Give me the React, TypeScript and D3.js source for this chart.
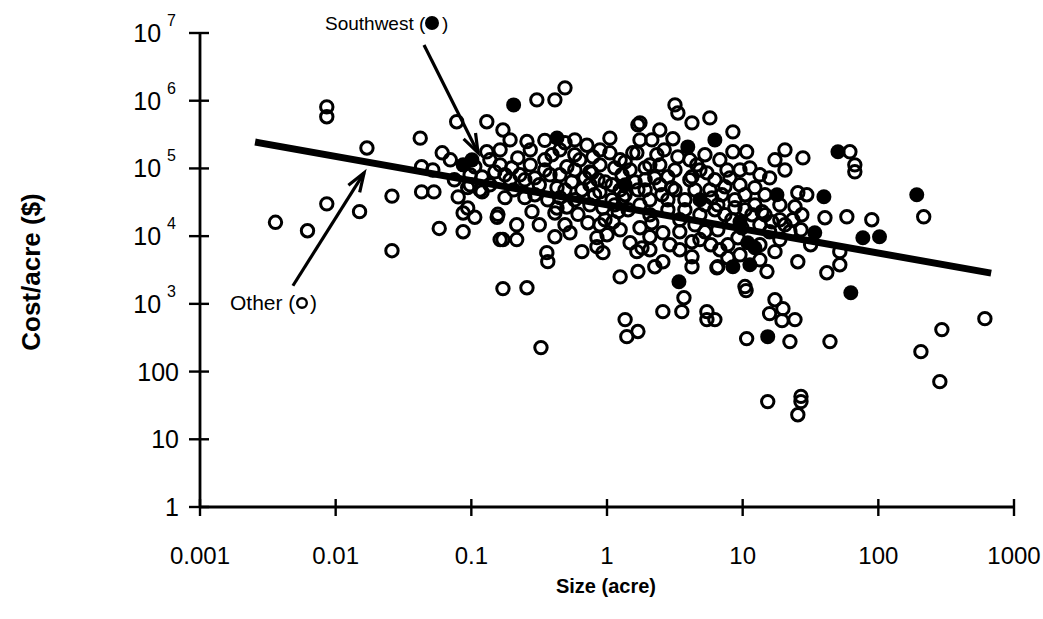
import React, { useEffect, useRef } from "react";
import * as d3 from "d3";

// axis ticks
const xTickValues = [0.001, 0.01, 0.1, 1, 10, 100, 1000];
const xTickLabels = ["0.001", "0.01", "0.1", "1", "10", "100", "1000"];
const yTickValues = [1, 10, 100, 1e3, 1e4, 1e5, 1e6, 1e7];
const yTickBase = ["1", "10", "100", "10", "10", "10", "10", "10"];
const yTickExp = ["", "", "", "3", "4", "5", "6", "7"];

// [size (acre), cost/acre ($)]
const otherPoints: [number, number][] = [
  [0.0036, 16000], [0.0062, 12000], [0.0086, 810000], [0.0086, 580000], [0.0086, 30000],
  [0.015, 23000], [0.017, 200000], [0.026, 39000], [0.026, 6100], [0.042, 280000],
  [0.043, 106000], [0.052, 95000], [0.043, 45000], [0.053, 45000], [0.058, 13000],
  [0.061, 170000], [0.07, 134000], [0.078, 490000], [0.13, 490000], [0.087, 11600],
  [0.08, 38000], [0.094, 26000], [0.106, 19000], [0.087, 22000], [0.13, 176000],
  [0.155, 19000], [0.163, 8900], [0.116, 48000], [0.171, 370000], [0.304, 1030000],
  [0.413, 1030000], [0.49, 1550000], [1.69, 440000], [0.257, 250000], [0.348, 260000],
  [0.49, 240000], [0.711, 220000], [1.05, 280000], [1.05, 170000], [0.579, 159000],
  [0.787, 148000], [0.22, 143000], [1.55, 170000], [1.36, 125000], [0.506, 106000],
  [0.748, 89000], [0.106, 106000], [0.149, 89000], [0.12, 75000], [0.094, 52000],
  [0.12, 45000], [0.177, 37000], [0.248, 37000], [0.428, 52000], [0.653, 48000],
  [0.887, 45000], [1.31, 37000], [0.157, 21000], [0.28, 23000], [0.413, 22000],
  [0.506, 27000], [0.611, 21000], [0.723, 15800], [0.966, 17500], [1.21, 23000],
  [0.216, 14700], [0.171, 8900], [0.216, 8900], [0.413, 9800], [0.533, 11200],
  [0.843, 9500], [1.0, 10500], [1.48, 8000], [0.36, 5700], [0.366, 4200],
  [0.653, 5900], [0.933, 5700], [1.81, 6700], [1.25, 2500], [1.69, 3000],
  [0.171, 1680], [0.257, 1730], [0.326, 226], [1.36, 585], [1.69, 390],
  [1.4, 328], [0.774, 86000], [0.933, 26000], [0.843, 7000], [0.428, 26000],
  [3.17, 867000], [3.33, 660000], [1.75, 471000], [4.23, 471000], [5.73, 557000],
  [8.47, 347000], [2.14, 264000], [3.06, 274000], [8.47, 176000], [10.7, 176000],
  [20.5, 188000], [27.8, 143000], [17.3, 134000], [20.5, 95000], [11.3, 102000],
  [13.4, 80500], [7.66, 95000], [25.5, 43700], [29.7, 40800], [40.4, 18700],
  [24.3, 27200], [23.4, 17500], [13.9, 22900], [8.77, 26200], [10.4, 40800],
  [7.4, 53600], [5.93, 36800], [4.23, 75200], [2.81, 75200], [3.33, 148000],
  [2.33, 159000], [1.66, 170000], [4.59, 113000], [5.45, 86000], [17.3, 5900],
  [25.5, 4190], [41.7, 2880], [9.23, 9460], [6.56, 3540], [4.23, 4970],
  [4.23, 3540], [2.58, 4190], [1.66, 5900], [2.07, 9800], [2.58, 11200],
  [2.14, 15800], [4.23, 8260], [61.7, 176000], [67.1, 113000], [67.1, 89100],
  [27.3, 20700], [58.6, 19300], [89.5, 17500], [216, 19300], [52.0, 5900],
  [52.0, 3780], [610, 605], [294, 417], [206, 197], [284, 71],
  [3.69, 1230], [2.58, 767], [3.56, 767], [5.45, 767], [6.24, 585],
  [5.45, 585], [10.7, 307], [10.6, 1570], [17.3, 1150], [19.8, 849],
  [15.8, 718], [19.5, 565], [24.3, 585], [22.3, 277], [44.0, 277],
  [15.3, 36], [26.9, 43], [26.9, 36], [25.5, 23], [6.46, 3420],
  [15.1, 3000], [10.4, 1800], [2.25, 3540], [7.78, 4800], [1.11, 16300],
  // dense band around the fit line
  [0.193, 67900], [0.228, 80500], [0.294, 72600], [0.348, 95000], [0.45, 80500],
  [0.551, 63400], [0.687, 72600], [0.857, 67900], [1.09, 57300], [1.29, 80500],
  [1.61, 63400], [1.91, 48300], [2.25, 72600], [2.54, 40800], [3.01, 51800],
  [3.75, 34400], [4.45, 48300], [5.27, 29000], [6.24, 24500], [7.03, 40800],
  [8.32, 17500], [9.86, 13300], [11.7, 20700], [13.4, 14700], [15.8, 11600],
  [18.8, 8900], [22.3, 11600], [0.294, 40800], [0.366, 34400], [0.45, 37000],
  [0.579, 34400], [0.748, 29000], [1.09, 34400], [1.43, 24500], [1.75, 29000],
  [2.07, 20700], [2.81, 24500], [3.44, 17500], [4.45, 14700], [5.27, 11600],
  [6.56, 12400], [7.78, 7460], [0.348, 134000], [0.272, 113000], [0.887, 113000],
  [1.14, 102000], [1.48, 95000], [1.91, 102000], [2.45, 113000], [3.17, 95000],
  [4.08, 134000], [5.27, 159000], [6.79, 134000], [8.05, 72600], [9.55, 57300],
  [12.3, 52000], [14.6, 40800], [15.8, 72600], [18.8, 29000], [1.25, 48300],
  [2.91, 7460], [3.44, 11600], [5.83, 7460], [13.4, 7460], [2.07, 34400],
  [0.748, 57300], [0.887, 14700], [1.75, 13300], [0.579, 95000], [0.393, 159000],
  [0.163, 113000], [0.137, 134000], [0.199, 102000],
  [0.098, 80500], [0.137, 57300], [0.177, 80500], [0.205, 48300], [0.248, 67900],
  [0.317, 57300], [0.38, 80500], [0.49, 48300], [0.63, 134000], [0.81, 40800],
  [0.97, 63400], [1.14, 29000], [1.36, 40800], [1.69, 48300], [1.91, 67900],
  [2.45, 57300], [2.81, 34400], [3.17, 48300], [3.75, 24500], [4.08, 67900],
  [4.84, 20700], [5.73, 48300], [6.56, 29000], [7.4, 20700], [8.77, 34400],
  [10.4, 24500], [12.3, 29000], [14.6, 20700], [16.4, 16300], [20.5, 14700],
  [2.07, 113000], [2.64, 188000], [4.84, 95000], [6.24, 67900], [9.55, 95000],
  [0.45, 188000], [0.579, 264000], [0.887, 188000], [1.25, 134000], [1.75, 264000],
  [2.45, 370000], [0.272, 188000], [0.163, 188000], [0.193, 264000], [0.098, 57300],
  [0.075, 67900], [0.317, 14700], [0.49, 14700], [1.25, 12400], [2.07, 6300],
  [3.44, 6300], [4.84, 8900], [6.79, 6300], [9.55, 5300], [13.4, 4470],
  [18.8, 17500], [26.9, 12400], [31.7, 7460],
];

const southwestPoints: [number, number][] = [
  [0.205, 867000], [0.087, 113000], [0.101, 134000], [0.428, 282000], [6.24, 264000],
  [3.94, 208000], [3.39, 2120], [15.3, 328], [62.7, 1460], [50.4, 176000],
  [39.7, 38100], [192, 40800], [76.9, 9460], [102, 9800], [17.9, 40800],
  [10.9, 7990], [12.3, 6740], [8.47, 3540], [11.3, 3780], [34.0, 11200],
  [4.84, 34400], [9.55, 16300], [1.36, 57300],
];

// regression line end points
const fitSize = [0.0027, 640];
const fitCost = [240000, 2900];

// annotation arrows: [from, to] in data units
const southwestArrow: [number, number][] = [[0.0448, 6.65e6], [0.112, 170000]];
const otherArrow: [number, number][] = [[0.00484, 1850], [0.0162, 86000]];

const width = 1043;
const height = 619;
const font = "'Liberation Sans', Arial, Helvetica, sans-serif";

const App = () => {
  const ref = useRef<SVGGElement>(null);

  useEffect(() => {
    const g = d3.select(ref.current);
    g.selectAll("*").remove();

    const x = d3.scaleLog().domain([0.001, 1000]).range([200, 1014]);
    const y = d3.scaleLog().domain([1, 1e7]).range([507, 33]);

    // axes
    g.append("line")
      .attr("x1", x(0.001)).attr("x2", x(1000))
      .attr("y1", y(1)).attr("y2", y(1))
      .attr("stroke", "#000").attr("stroke-width", 2.8);
    g.append("line")
      .attr("x1", x(0.001)).attr("x2", x(0.001))
      .attr("y1", y(1)).attr("y2", y(1e7))
      .attr("stroke", "#000").attr("stroke-width", 2.8);

    g.selectAll(".xtick").data(xTickValues).enter().append("line")
      .attr("x1", d => x(d)).attr("x2", d => x(d))
      .attr("y1", y(1) - 8).attr("y2", y(1) + 9)
      .attr("stroke", "#000").attr("stroke-width", 2.4);
    g.selectAll(".xlab").data(xTickValues).enter().append("text")
      .attr("x", d => x(d)).attr("y", y(1) + 57)
      .attr("text-anchor", "middle")
      .attr("font-family", font).attr("font-size", 24)
      .text((d, i) => xTickLabels[i]);

    g.selectAll(".ytick").data(yTickValues).enter().append("line")
      .attr("x1", x(0.001) - 11).attr("x2", x(0.001) + 9)
      .attr("y1", d => y(d)).attr("y2", d => y(d))
      .attr("stroke", "#000").attr("stroke-width", 2.4);
    const ylab = g.selectAll(".ylab").data(yTickValues).enter().append("text")
      .attr("x", (d, i) => (yTickExp[i] ? 176 : 179)).attr("y", d => y(d) + 9)
      .attr("text-anchor", "end")
      .attr("font-family", font).attr("font-size", 25);
    ylab.append("tspan").text((d, i) => yTickBase[i]);
    ylab.append("tspan")
      .attr("dx", 6).attr("dy", -16).attr("font-size", 16)
      .text((d, i) => yTickExp[i]);

    // axis titles
    g.append("text")
      .attr("x", 606).attr("y", 593)
      .attr("text-anchor", "middle")
      .attr("font-family", font).attr("font-size", 20).attr("font-weight", "bold")
      .text("Size (acre)");
    g.append("text")
      .attr("transform", "translate(40,272) rotate(-90)")
      .attr("text-anchor", "middle")
      .attr("font-family", font).attr("font-size", 26).attr("font-weight", "bold")
      .text("Cost/acre ($)");

    // points
    g.selectAll(".other").data(otherPoints).enter().append("circle")
      .attr("cx", d => x(d[0])).attr("cy", d => y(d[1]))
      .attr("r", 6.2)
      .attr("fill", "none").attr("stroke", "#000").attr("stroke-width", 3);
    g.selectAll(".sw").data(southwestPoints).enter().append("circle")
      .attr("cx", d => x(d[0])).attr("cy", d => y(d[1]))
      .attr("r", 7.5)
      .attr("fill", "#000");

    // fit line
    const line = d3.line<number>()
      .x((d, i) => x(fitSize[i]))
      .y(d => y(d));
    g.append("path")
      .attr("d", line(fitCost))
      .attr("fill", "none").attr("stroke", "#000").attr("stroke-width", 7)
      .attr("stroke-linecap", "square");

    // arrows
    const drawArrow = (pts: [number, number][]) => {
      const [x0, y0] = [x(pts[0][0]), y(pts[0][1])];
      const [x1, y1] = [x(pts[1][0]), y(pts[1][1])];
      const a = Math.atan2(y1 - y0, x1 - x0);
      g.append("line")
        .attr("x1", x0).attr("y1", y0).attr("x2", x1).attr("y2", y1)
        .attr("stroke", "#000").attr("stroke-width", 3.2);
      const len = 20, spread = 0.34;
      const p = [
        [x1 - len * Math.cos(a - spread), y1 - len * Math.sin(a - spread)],
        [x1, y1],
        [x1 - len * Math.cos(a + spread), y1 - len * Math.sin(a + spread)],
      ];
      g.append("path")
        .attr("d", d3.line()(p as [number, number][]))
        .attr("fill", "none").attr("stroke", "#000").attr("stroke-width", 3.2)
        .attr("stroke-linejoin", "miter");
    };
    drawArrow(southwestArrow);
    drawArrow(otherArrow);

    // labels
    g.append("text")
      .attr("x", 325).attr("y", 30)
      .attr("font-family", font).attr("font-size", 19)
      .text("Southwest (");
    g.append("circle").attr("cx", 432).attr("cy", 23).attr("r", 7).attr("fill", "#000");
    g.append("text")
      .attr("x", 442).attr("y", 30)
      .attr("font-family", font).attr("font-size", 19)
      .text(")");

    g.append("text")
      .attr("x", 230).attr("y", 310)
      .attr("font-family", font).attr("font-size", 21)
      .text("Other (");
    g.append("circle").attr("cx", 302).attr("cy", 303).attr("r", 4.8)
      .attr("fill", "none").attr("stroke", "#000").attr("stroke-width", 2.4);
    g.append("text")
      .attr("x", 310).attr("y", 310)
      .attr("font-family", font).attr("font-size", 21)
      .text(")");
  }, []);

  return (
    <svg
      width={width}
      height={height}
      style={{ position: "absolute", left: 0, top: 0, background: "#fff" }}
    >
      <g ref={ref} />
    </svg>
  );
};

export default App;
